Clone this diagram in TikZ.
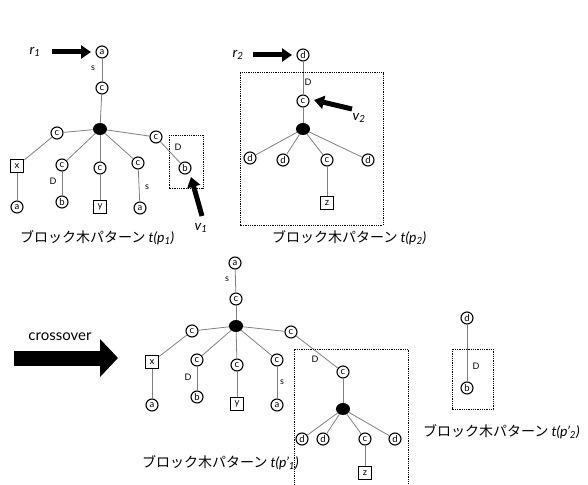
\documentclass[tikz,border=0pt]{standalone}
\usepackage{fontspec}
\setmainfont{Lato}
\newfontfamily\jpfont{Noto Sans CJK JP}
\usetikzlibrary{arrows.meta,shapes.geometric}
\newcommand{\latit}[1]{{\normalfont\itshape #1}}
\begin{document}
\begin{tikzpicture}[x=1pt,y=-1pt,
  cn/.style={circle,draw,line width=1.1pt,inner sep=0pt,minimum size=12pt,font=\fontsize{9.5}{9.5}\selectfont},
  sq/.style={rectangle,draw,line width=1.1pt,inner sep=0pt,minimum size=13.5pt,font=\fontsize{9.5}{9.5}\selectfont},
  blk/.style={ellipse,fill=black,inner sep=0pt,minimum width=14pt,minimum height=12pt},
  ed/.style={draw=gray,line width=0.8pt},
  lbl/.style={font=\fontsize{9}{9}\selectfont,inner sep=0pt},
  captext/.style={font=\fontsize{14}{15}\selectfont,inner sep=0pt,anchor=west},
  ptr/.style={font=\itshape\fontsize{14}{14}\selectfont,inner sep=0pt},
  big/.style={line width=5pt,-{Triangle[length=10pt,width=13pt]}},
  dbox/.style={draw,line width=1pt,dash pattern=on 1pt off 0.8pt}]
\useasboundingbox (0,0) rectangle (588,484);

% ---------- tree t(p1)
\node[cn] (a1) at (102,52) {a};
\node[cn] (c1) at (102,88) {c};
\node[blk] (k1) at (100,129) {};
\node[cn] (cl1) at (57,133) {c};
\node[cn] (cr1) at (156,137) {c};
\node[sq] (x1) at (17,166) {x};
\node[cn] (c21) at (62,165) {c};
\node[cn] (c31) at (100,168) {c};
\node[cn] (c41) at (138,163) {c};
\node[cn] (b1) at (185,168) {b};
\node[cn] (a21) at (17,207) {a};
\node[cn] (b21) at (62,202) {b};
\node[sq] (y1) at (100,207) {y};
\node[cn] (a41) at (140,208) {a};
\foreach \u/\v in {a1/c1,c1/k1,k1/cl1,k1/cr1,k1/c21,k1/c31,k1/c41,cl1/x1,x1/a21,c21/b21,c31/y1,c41/a41,cr1/b1}
  \draw[ed] (\u) -- (\v);
\node[lbl] (s11) at (93,68) {s};
\node[lbl] (d11) at (53,181) {D};
\node[lbl] (s12) at (147,187) {s};
\node[lbl] (d12) at (178,147) {D};
\draw[dbox] (169,135) rectangle (203,188);
\node[ptr] (r1) at (35,52) {r\textsubscript{1}};
\coordinate (r1s) at (52,52);
\coordinate (r1e) at (91,52);
\draw[big] (r1s) -- (r1e);
\node[ptr] (v1) at (201,228) {v\textsubscript{1}};
\coordinate (v1s) at (202,216);
\coordinate (v1e) at (191,177);
\draw[big] (v1s) -- (v1e);
\node[captext] (cap1) at (20,238) {\jpfont ブロック木パターン\ \latit{t(p\textsubscript{1})}};

% ---------- tree t(p2)
\node[cn] (d2) at (303,55) {d};
\node[cn] (c2) at (303,101) {c};
\node[blk] (k2) at (303,129) {};
\node[cn] (dd1) at (250,158) {d};
\node[cn] (dd2) at (283,160) {d};
\node[cn] (cc2) at (327,160) {c};
\node[cn] (dd4) at (368,160) {d};
\node[sq] (z2) at (327,203) {z};
\foreach \u/\v in {d2/c2,c2/k2,k2/dd1,k2/dd2,k2/cc2,k2/dd4,cc2/z2}
  \draw[ed] (\u) -- (\v);
\node[lbl] (d21) at (308,82) {D};
\draw[dbox] (240,73) rectangle (383,225);
\node[ptr] (r2) at (238,55) {r\textsubscript{2}};
\coordinate (r2s) at (253,55);
\coordinate (r2e) at (292,55);
\draw[big] (r2s) -- (r2e);
\node[ptr] (v2) at (359,118) {v\textsubscript{2}};
\coordinate (v2s) at (352,109);
\coordinate (v2e) at (314,100);
\draw[big] (v2s) -- (v2e);
\node[captext] (cap2) at (272,238) {\jpfont ブロック木パターン\ \latit{t(p\textsubscript{2})}};

% ---------- crossover arrow
\node[font=\fontsize{15}{15}\selectfont,inner sep=0pt] (co) at (60,337) {crossover};
\coordinate (cos) at (14,358);
\coordinate (coe) at (118,358);
\draw[line width=15pt,-{Triangle[length=18pt,width=37pt]}] (cos) -- (coe);

% ---------- tree t(p'1)
\node[cn] (a3) at (235,263) {a};
\node[cn] (c3) at (236,299) {c};
\node[blk] (k3) at (236,326) {};
\node[cn] (cl3) at (192,331) {c};
\node[cn] (cr3) at (291,332) {c};
\node[sq] (x3) at (152,362) {x};
\node[cn] (c23) at (197,360) {c};
\node[cn] (c33) at (237,365) {c};
\node[cn] (c43) at (277,360) {c};
\node[cn] (a23) at (152,405) {a};
\node[cn] (b23) at (197,397) {b};
\node[sq] (y3) at (237,404) {y};
\node[cn] (a43) at (277,405) {a};
\node[cn] (cc3) at (343,372) {c};
\node[blk] (k4) at (343,409) {};
\node[cn] (e1) at (302,439) {d};
\node[cn] (e2) at (323,439) {d};
\node[cn] (e3) at (365,439) {c};
\node[cn] (e4) at (395,439) {d};
\node[sq] (z3) at (365,473) {z};
\foreach \u/\v in {a3/c3,c3/k3,k3/cl3,k3/cr3,k3/c23,k3/c33,k3/c43,cl3/x3,x3/a23,c23/b23,c33/y3,c43/a43,cr3/cc3,cc3/k4,k4/e1,k4/e2,k4/e3,k4/e4,e3/z3}
  \draw[ed] (\u) -- (\v);
\node[lbl] (s31) at (227,279) {s};
\node[lbl] (d31) at (188,377) {D};
\node[lbl] (s32) at (282,382) {s};
\node[lbl] (d32) at (315,359) {D};
\draw[dbox] (294,490) -- (294,349) -- (408,349) -- (408,490);
\node[captext] (cap3) at (142,463) {\jpfont ブロック木パターン\ \latit{t(p'\textsubscript{1})}};

% ---------- tree t(p'2)
\node[cn] (d4) at (467,318) {d};
\node[cn] (b4) at (467,388) {b};
\draw[ed] (d4) -- (b4);
\node[lbl] (d41) at (476,366) {D};
\draw[dbox] (452,349) rectangle (493,409);
\node[captext] (cap4) at (423,432) {\jpfont ブロック木パターン\ \latit{t(p'\textsubscript{2})}};
\end{tikzpicture}
\end{document}
